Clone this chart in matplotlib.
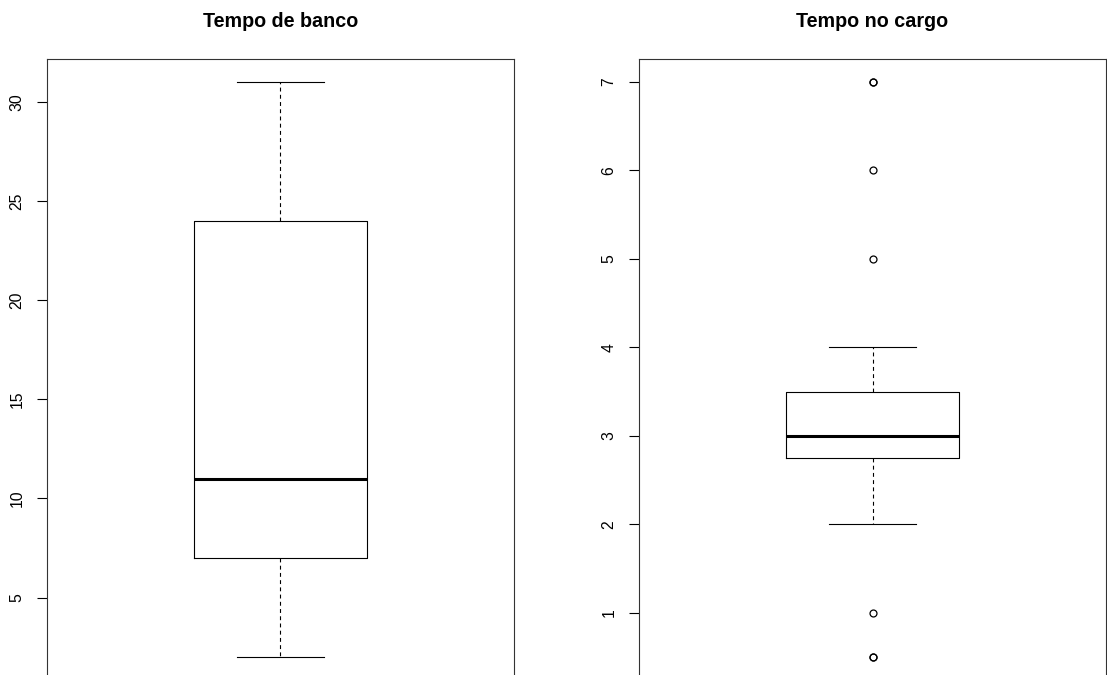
import matplotlib
matplotlib.use("Agg")
import matplotlib.pyplot as plt

plt.rcParams.update({"font.family": ["Liberation Sans", "DejaVu Sans"]})

# five-number summaries + outliers for each variable
titles = ["Tempo de banco", "Tempo no cargo"]
q1 = [7, 2.75]
med = [11, 3]
q3 = [24, 3.5]
whis_lo = [2, 2]
whis_hi = [31, 4]
outliers = [[], [7, 7, 6, 5, 1, 0.5, 0.5]]
yticks = [[5, 10, 15, 20, 25, 30], [1, 2, 3, 4, 5, 6, 7]]

W, H = 1107, 675
fig = plt.figure(figsize=(W / 100, H / 100), dpi=100)

# plot regions in pixels: (left, top, width, height); bottom runs off the page
regions = [(47, 59, 467, 621), (639, 59, 467, 621)]

for i, (l, t, w, h) in enumerate(regions):
    ax = fig.add_axes([l / W, (H - t - h) / H, w / W, h / H])
    st = dict(med=med[i], q1=q1[i], q3=q3[i], whislo=whis_lo[i],
              whishi=whis_hi[i], fliers=outliers[i])
    ax.bxp([st], positions=[1], widths=0.4, capwidths=0.2,
           boxprops=dict(color="black", lw=0.8),
           medianprops=dict(color="black", lw=2.2, solid_capstyle="butt"),
           whiskerprops=dict(color="black", lw=0.8, linestyle=(0, (3.5, 3))),
           capprops=dict(color="black", lw=0.8),
           flierprops=dict(marker="o", markersize=5, markerfacecolor="none",
                           markeredgecolor="black", markeredgewidth=0.9))
    lo = min([whis_lo[i]] + outliers[i])
    hi = max([whis_hi[i]] + outliers[i])
    pad = 0.04 * (hi - lo)
    ax.set_ylim(lo - pad, hi + pad)
    ax.set_xlim(0.46, 1.54)
    ax.set_xticks([])
    ax.set_yticks(yticks[i])
    ax.set_yticklabels([str(v) for v in yticks[i]], rotation=90, va="center")
    ax.tick_params(axis="y", length=7.2, width=0.8, pad=9, labelsize=11.3)
    for s in ax.spines.values():
        s.set_linewidth(0.8)
        s.set_color("#333333")
    ax.set_title(titles[i], fontsize=14.2, fontweight="bold", pad=23)

fig.savefig("out.png", dpi=100)
